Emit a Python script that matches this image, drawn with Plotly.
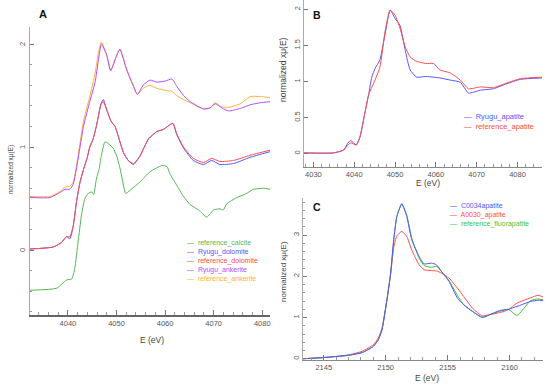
import plotly.graph_objects as go

# ---------------- Panel A : carbonates ----------------
energy_a_ank = [4032.2, 4036.3, 4038.4, 4039.4, 4040.4, 4041.1, 4041.8, 4042.5, 4043.2, 4044.0,
                4044.5, 4045.6, 4046.3, 4046.9, 4048.0, 4048.8, 4049.8, 4050.7, 4052.1, 4053.5,
                4054.3, 4055.5, 4056.9, 4058.3, 4060.0, 4061.4, 4062.4, 4063.8, 4065.2, 4067.9,
                4069.3, 4070.3, 4071.7, 4073.1, 4075.5, 4077.5, 4079.6, 4081.6]
reference_ankerite = [0.52, 0.52, 0.57, 0.61, 0.62, 0.66, 0.83, 1.04, 1.25, 1.40,
                      1.49, 1.72, 1.92, 2.02, 1.89, 1.74, 1.86, 1.95, 1.75, 1.59,
                      1.51, 1.57, 1.60, 1.57, 1.55, 1.54, 1.50, 1.46, 1.43, 1.37,
                      1.38, 1.43, 1.39, 1.385, 1.42, 1.49, 1.49, 1.48]
ryugu_ankerite = [0.51, 0.51, 0.56, 0.59, 0.59, 0.64, 0.80, 1.00, 1.20, 1.35,
                  1.44, 1.63, 1.85, 2.00, 1.89, 1.74, 1.86, 1.95, 1.75, 1.59,
                  1.51, 1.60, 1.65, 1.63, 1.64, 1.66, 1.59, 1.50, 1.44, 1.37,
                  1.38, 1.42, 1.38, 1.35, 1.375, 1.41, 1.43, 1.44]

energy_a_dol = [4032.2, 4037.0, 4038.7, 4039.7, 4040.4, 4041.1, 4041.8, 4042.5, 4043.2, 4044.0,
                4044.5, 4045.2, 4045.9, 4046.8, 4047.3, 4048.0, 4048.9, 4049.7, 4050.4, 4051.4,
                4052.4, 4053.5, 4054.8, 4056.6, 4058.3, 4059.6, 4061.6, 4062.4, 4063.8, 4065.8,
                4067.9, 4069.6, 4071.3, 4074.1, 4077.5, 4081.6]
reference_dolomite = [0.01, 0.03, 0.075, 0.13, 0.13, 0.24, 0.48, 0.66, 0.78, 0.90,
                      1.00, 1.08, 1.21, 1.41, 1.44, 1.36, 1.25, 1.20, 1.10, 0.95,
                      0.87, 0.84, 0.91, 1.08, 1.15, 1.17, 1.23, 1.13, 1.00, 0.89,
                      0.85, 0.89, 0.86, 0.87, 0.92, 0.97]
ryugu_dolomite = [0.01, 0.03, 0.075, 0.13, 0.11, 0.23, 0.48, 0.66, 0.78, 0.90,
                  1.00, 1.08, 1.21, 1.42, 1.46, 1.36, 1.25, 1.20, 1.10, 0.95,
                  0.87, 0.83, 0.91, 1.08, 1.15, 1.17, 1.23, 1.12, 0.99, 0.87,
                  0.83, 0.87, 0.83, 0.84, 0.90, 0.955]

energy_a_cal = [4032.2, 4037.7, 4039.7, 4040.8, 4041.4, 4042.1, 4042.8, 4043.5, 4044.2, 4044.9,
                4045.3, 4045.9, 4046.4, 4046.9, 4047.6, 4048.0, 4049.3, 4050.0, 4050.6, 4051.1,
                4051.9, 4052.8, 4054.8, 4056.9, 4059.3, 4060.4, 4061.0, 4062.4, 4063.8, 4065.2,
                4066.9, 4068.6, 4070.0, 4071.3, 4072.0, 4072.7, 4074.8, 4076.8, 4078.2, 4080.3,
                4081.6]
reference_calcite = [-0.39, -0.37, -0.29, -0.28, -0.18, 0.08, 0.34, 0.50, 0.55, 0.565,
                     0.54, 0.70, 0.78, 0.92, 1.05, 1.045, 0.99, 0.92, 0.82, 0.71,
                     0.55, 0.58, 0.66, 0.76, 0.82, 0.81, 0.74, 0.63, 0.52, 0.44,
                     0.39, 0.32, 0.39, 0.40, 0.39, 0.45, 0.51, 0.55, 0.59, 0.60,
                     0.59]
a_ytick_vals = [0, 1, 2]

# ---------------- Panel B ----------------
energy_b = [4027.6, 4034.9, 4037.4, 4038.6, 4039.2, 4040.5, 4041.4, 4042.5, 4043.5, 4044.3,
            4045.1, 4046.3, 4047.6, 4048.8, 4050.0, 4051.2, 4052.5, 4053.7, 4055.3, 4057.5,
            4059.4, 4061.0, 4063.5, 4066.0, 4068.0, 4070.9, 4074.1, 4077.4, 4080.7, 4086.0]
ryugu_apatite = [0.01, 0.01, 0.05, 0.16, 0.18, 0.12, 0.23, 0.53, 0.81, 1.06,
                 1.18, 1.30, 1.67, 1.99, 1.875, 1.78, 1.43, 1.16, 1.06, 1.07,
                 1.06, 1.05, 1.02, 0.99, 0.84, 0.88, 0.90, 0.97, 1.03, 1.05]
reference_apatite = [0.01, 0.01, 0.05, 0.13, 0.15, 0.12, 0.23, 0.53, 0.81, 0.92,
                     1.02, 1.20, 1.71, 1.99, 1.92, 1.74, 1.48, 1.34, 1.28, 1.25,
                     1.25, 1.16, 1.12, 1.02, 0.90, 0.925, 0.915, 0.98, 1.04, 1.06]

# ---------------- Panel C ----------------
energy_c = [2143.3, 2145.0, 2146.9, 2148.1, 2149.0, 2149.4, 2149.7, 2150.1, 2150.4, 2150.65,
            2150.9, 2151.3, 2151.7, 2152.1, 2152.7, 2153.1, 2153.7, 2154.1, 2154.5, 2155.1,
            2155.8, 2156.3, 2157.0, 2157.8, 2158.4, 2159.2, 2159.9, 2160.6, 2161.7, 2162.3,
            2162.7]
c0034_apatite = [0.0, 0.03, 0.08, 0.15, 0.30, 0.46, 0.70, 1.43, 2.08, 2.89,
                 3.45, 3.76, 3.45, 2.89, 2.48, 2.30, 2.32, 2.28, 2.12, 1.88,
                 1.47, 1.31, 1.15, 1.00, 1.07, 1.17, 1.20, 1.27, 1.39, 1.42,
                 1.41]
a0030_apatite = [0.0, 0.03, 0.09, 0.18, 0.34, 0.50, 0.74, 1.43, 2.05, 2.70,
                 2.98, 3.09, 2.97, 2.64, 2.28, 2.16, 2.14, 2.13, 2.08, 1.96,
                 1.71, 1.51, 1.23, 1.04, 1.07, 1.12, 1.19, 1.35, 1.48, 1.54,
                 1.50]
reference_fluorapatite = [0.0, 0.03, 0.08, 0.15, 0.30, 0.46, 0.70, 1.43, 2.08, 2.89,
                          3.45, 3.76, 3.49, 2.93, 2.44, 2.26, 2.22, 2.24, 2.12, 1.90,
                          1.53, 1.31, 1.15, 1.01, 1.07, 1.15, 1.20, 1.05, 1.41, 1.45,
                          1.43]

# ---------------- styling ----------------
GREEN = "#55b555"
BLUE = "#5555ff"
RED = "#ff4d4d"
PURPLE = "#b34dff"
ORANGE = "#ffb03b"
GREEN_C = "#3cbf3c"
FONT = "Liberation Sans"
W, H = 550, 386


def fx(p):
    return p / W


def fy(p):
    return 1 - p / H


fig = go.Figure()


def line(x, y, color, name, xa, ya):
    fig.add_trace(go.Scatter(x=x, y=y, mode="lines", name=name, showlegend=False,
                             line=dict(color=color, width=1, shape="spline", smoothing=0.5),
                             xaxis=xa, yaxis=ya))


# panel A
line(energy_a_cal, reference_calcite, GREEN, "reference_calcite", "x", "y")
line(energy_a_dol, ryugu_dolomite, BLUE, "Ryugu_dolomite", "x", "y")
line(energy_a_dol, reference_dolomite, RED, "reference_dolomite", "x", "y")
line(energy_a_ank, reference_ankerite, ORANGE, "reference_ankerite", "x", "y")
line(energy_a_ank, ryugu_ankerite, PURPLE, "Ryugu_ankerite", "x", "y")
# panel B
line(energy_b, ryugu_apatite, BLUE, "Ryugu_apatite", "x2", "y2")
line(energy_b, reference_apatite, RED, "reference_apatite", "x2", "y2")
# panel C
line(energy_c, a0030_apatite, RED, "A0030_apatite", "x3", "y3")
line(energy_c, reference_fluorapatite, GREEN_C, "reference_fluorapatite", "x3", "y3")
line(energy_c, c0034_apatite, BLUE, "C0034apatite", "x3", "y3")

tickfont = dict(family=FONT, size=7.5, color="#555")


def xaxis(domain, rng, anchor, dtick, minor, lw=1.2, lc="#888"):
    return dict(domain=domain, range=rng, anchor=anchor, dtick=dtick, tick0=0,
                ticks="inside", ticklen=5, tickcolor="#777", tickwidth=1,
                minor=dict(dtick=minor, ticks="inside", ticklen=3, tickcolor="#999"),
                showline=True, linecolor=lc, linewidth=lw, showgrid=False, zeroline=False,
                tickfont=tickfont, fixedrange=True)


def yaxis(domain, rng, anchor, dtick, minor, labels=True):
    d = dict(domain=domain, range=rng, anchor=anchor, dtick=dtick, tick0=0,
             ticks="inside", ticklen=4, tickcolor="#777", tickwidth=1,
             showline=True, linecolor="#aaa", linewidth=1, showgrid=False, zeroline=False,
             tickangle=-90, showticklabels=labels, tickfont=tickfont, fixedrange=True)
    if minor:
        d["minor"] = dict(dtick=minor, ticks="inside", ticklen=2, tickcolor="#999")
    return d


annotations = []


def text(x, y, s, size=8, color="#444", angle=0, anchor="center", bold=False):
    annotations.append(dict(x=fx(x), y=fy(y), xref="paper", yref="paper",
                            text=f"<b>{s}</b>" if bold else s,
                            showarrow=False, textangle=angle, xanchor=anchor, yanchor="middle",
                            font=dict(family=FONT, size=size, color=color)))


# panel A y tick labels (rotated, placed on the y scale just left of the axis)
for v in a_ytick_vals:
    annotations.append(dict(x=fx(22), y=v, xref="paper", yref="y", text=str(v),
                            showarrow=False, textangle=-90, xanchor="center", yanchor="middle",
                            font=tickfont))

# panel letters
text(43, 14, "A", size=11, color="#111", bold=True)
text(317, 15, "B", size=10.5, color="#111", bold=True)
text(317, 207, "C", size=10.5, color="#111", bold=True)

# axis titles
text(152, 340, "E (eV)", size=8.5)
text(11, 170, "normalized xμ(E)", size=6.5, angle=-90)
text(428, 183, "E (eV)", size=8.5)
text(283, 70, "normalized xμ(E)", size=8.5, angle=-90)
text(427, 378, "E (eV)", size=8.5)
text(283, 272, "normalized xμ(E)", size=8, angle=-90)

# legends
legend_a = [("reference_calcite", GREEN), ("Ryugu_dolomite", BLUE), ("reference_dolomite", RED),
            ("Ryugu_ankerite", PURPLE), ("reference_ankerite", ORANGE)]
for i, (nm, c) in enumerate(legend_a):
    text(185, 243.3 + 9.0 * i, "—  " + nm, size=7, color=c, anchor="left")
legend_b = [("Ryugu_apatite", BLUE), ("reference_apatite", RED)]
for i, (nm, c) in enumerate(legend_b):
    text(462, 117 + 9.3 * i, "—  " + nm, size=7.5, color=c, anchor="left")
legend_c = [("C0034apatite", BLUE), ("A0030_apatite", RED), ("reference_fluorapatite", GREEN_C)]
for i, (nm, c) in enumerate(legend_c):
    text(448, 206 + 9.0 * i, "—  " + nm, size=7, color=c, anchor="left")

fig.update_layout(
    width=W, height=H, margin=dict(l=0, r=0, t=0, b=0),
    paper_bgcolor="white", plot_bgcolor="white", showlegend=False,
    xaxis=xaxis([fx(30), fx(270)], [4032.2, 4081.6], "y", 10, 2, lw=2, lc="#666"),
    yaxis=yaxis([fy(315), fy(27)], [-0.63, 2.165], "x", 1, 0.2, labels=False),
    xaxis2=xaxis([fx(304), fx(542)], [4027.7, 4086], "y2", 10, 2),
    yaxis2=yaxis([fy(167), fy(0)], [-0.185, 2.13], "x2", 0.5, None),
    xaxis3=xaxis([fx(302.7), fx(543)], [2143.3, 2162.7], "y3", 5, 1),
    yaxis3=yaxis([fy(360), fy(198)], [-0.03, 3.9], "x3", 1, 0.2),
    annotations=annotations,
)

fig.write_html("out.html",
               config={"displayModeBar": False, "staticPlot": True},
               post_script="document.body.style.margin='0';document.body.style.overflow='hidden';")
